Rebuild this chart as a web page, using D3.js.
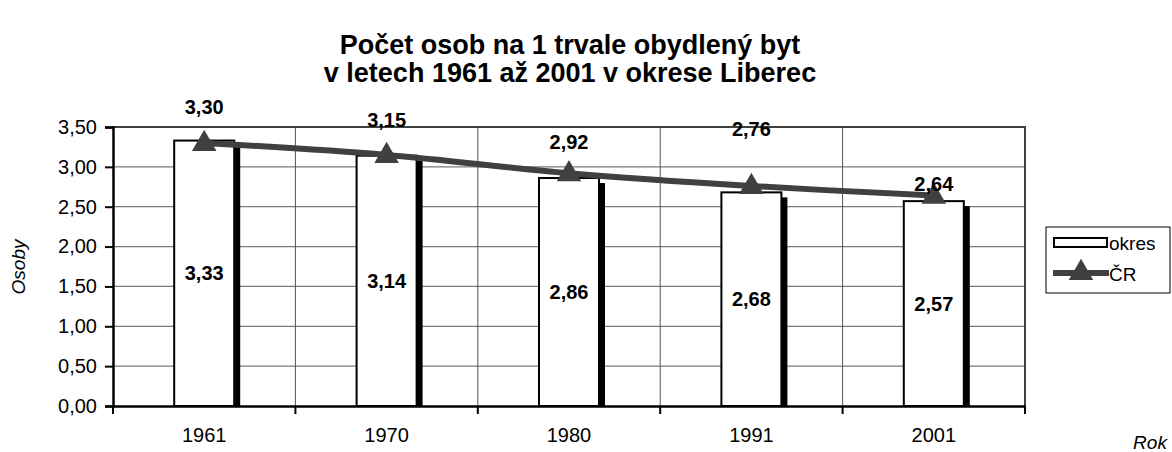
<!DOCTYPE html>
<html lang="cs">
<head>
    <meta charset="UTF-8">
    <title>Počet osob na 1 trvale obydlený byt</title>
    <script src="https://d3js.org/d3.v7.min.js"></script>
    <style>
        body {
            margin: 0;
            background: #fff;
            font-family: "Liberation Sans", Arial, sans-serif;
        }
        svg text {
            fill: #000;
        }
    </style>
</head>
<body>
    <svg width="1172" height="452"></svg>

    <script>
        // data
        const years = ["1961", "1970", "1980", "1991", "2001"];
        const okres = [3.33, 3.14, 2.86, 2.68, 2.57];
        const cr = [3.30, 3.15, 2.92, 2.76, 2.64];
        const yTicks = [0, 0.5, 1, 1.5, 2, 2.5, 3, 3.5];

        // label offsets above the line markers (px)
        const crLabelDy = [-36, -35, -31, -57, -12];

        const cz = d3.formatLocale({decimal: ",", thousands: " ", grouping: [3], currency: ["", " Kč"]});
        const fmt = cz.format(".2f");

        const svg = d3.select("svg");
        const plotL = 113, plotR = 1025, plotT = 127, plotB = 406;

        const x = d3.scaleBand()
                    .domain(years)
                    .range([plotL, plotR])
                    .padding(0);

        const y = d3.scaleLinear()
                    .domain([0, 3.5])
                    .range([plotB, plotT]);

        // title
        const title = svg.append("text")
           .attr("x", 570)
           .attr("text-anchor", "middle")
           .style("font-weight", "bold")
           .style("font-size", "27px");
        title.append("tspan").attr("x", 570).attr("y", 54).text("Počet osob na 1 trvale obydlený byt");
        title.append("tspan").attr("x", 570).attr("y", 82).text("v letech 1961 až 2001 v okrese Liberec");

        // horizontal gridlines
        svg.append("g")
           .selectAll("line")
           .data(yTicks.filter(d => d > 0 && d < 3.5))
           .enter()
           .append("line")
           .attr("x1", plotL).attr("x2", plotR)
           .attr("y1", d => y(d)).attr("y2", d => y(d))
           .attr("stroke", "#7a7a7a")
           .attr("stroke-width", 1.3);

        // vertical gridlines at category boundaries
        svg.append("g")
           .selectAll("line")
           .data(years.slice(1))
           .enter()
           .append("line")
           .attr("x1", d => x(d)).attr("x2", d => x(d))
           .attr("y1", plotT).attr("y2", plotB)
           .attr("stroke", "#555")
           .attr("stroke-width", 1);

        // plot border top / right
        svg.append("path")
           .attr("d", `M${plotL},${plotT}H${plotR}V${plotB}`)
           .attr("fill", "none")
           .attr("stroke", "#404040")
           .attr("stroke-width", 2);

        // bars with dark side
        const barW = 60;
        const bars = svg.append("g")
           .selectAll("g")
           .data(okres)
           .enter()
           .append("g");

        bars.append("rect")
            .attr("x", (d, i) => x(years[i]) + x.bandwidth() / 2 + barW / 2)
            .attr("y", d => y(d) + 5)
            .attr("width", 6)
            .attr("height", d => plotB - y(d) - 5)
            .attr("fill", "#000");

        bars.append("rect")
            .attr("x", (d, i) => x(years[i]) + x.bandwidth() / 2 - barW / 2)
            .attr("y", d => y(d))
            .attr("width", barW)
            .attr("height", d => plotB - y(d))
            .attr("fill", "#fff")
            .attr("stroke", "#000")
            .attr("stroke-width", 2);

        bars.append("text")
            .attr("x", (d, i) => x(years[i]) + x.bandwidth() / 2)
            .attr("y", d => y(d / 2) + 7)
            .attr("text-anchor", "middle")
            .style("font-weight", "bold")
            .style("font-size", "20px")
            .text(d => fmt(d));

        // axes
        const yAxis = svg.append("g")
           .attr("transform", `translate(${plotL},0)`)
           .call(d3.axisLeft(y).tickValues(yTicks).tickFormat(fmt).tickSize(8).tickPadding(8));
        yAxis.select(".domain").attr("stroke-width", 2.5);
        yAxis.selectAll(".tick line").attr("stroke-width", 2);
        yAxis.selectAll("text").style("font-size", "20px").style("font-family", "Liberation Sans, Arial, sans-serif");

        const xAxis = svg.append("g")
           .attr("transform", `translate(0,${plotB})`)
           .call(d3.axisBottom(x).tickSize(0).tickPadding(22));
        xAxis.select(".domain").attr("stroke-width", 2.5);
        xAxis.selectAll("text").style("font-size", "20px").style("font-family", "Liberation Sans, Arial, sans-serif");
        xAxis.selectAll(".sep")
             .data(years.concat(["end"]))
             .enter()
             .append("line")
             .attr("class", "sep")
             .attr("x1", (d, i) => i < years.length ? x(d) : plotR)
             .attr("x2", (d, i) => i < years.length ? x(d) : plotR)
             .attr("y1", 0).attr("y2", 8)
             .attr("stroke", "#000")
             .attr("stroke-width", 2);

        // axis titles
        svg.append("text")
           .attr("transform", "translate(25,267) rotate(-90)")
           .attr("text-anchor", "middle")
           .style("font-style", "italic")
           .style("font-size", "19px")
           .text("Osoby");

        svg.append("text")
           .attr("x", 1150)
           .attr("y", 449)
           .attr("text-anchor", "middle")
           .style("font-style", "italic")
           .style("font-size", "19px")
           .text("Rok");

        // ČR line
        const pts = cr.map((d, i) => [x(years[i]) + x.bandwidth() / 2, y(d)]);
        svg.append("path")
           .attr("d", d3.line().curve(d3.curveCatmullRom.alpha(0.5))(pts))
           .attr("fill", "none")
           .attr("stroke", "#404040")
           .attr("stroke-width", 6);

        const tri = d3.symbol().type(d3.symbolTriangle).size(260);
        svg.append("g")
           .selectAll("path")
           .data(pts)
           .enter()
           .append("path")
           .attr("d", tri)
           .attr("transform", d => `translate(${d[0]},${d[1] + 1})`)
           .attr("fill", "#404040");

        svg.append("g")
           .selectAll("text")
           .data(cr)
           .enter()
           .append("text")
           .attr("x", (d, i) => pts[i][0])
           .attr("y", (d, i) => pts[i][1] + crLabelDy[i] + 7)
           .attr("text-anchor", "middle")
           .style("font-weight", "bold")
           .style("font-size", "20px")
           .text(d => fmt(d));

        // legend
        const lg = svg.append("g").attr("transform", "translate(1046,227)");
        lg.append("rect")
          .attr("x", 0).attr("y", 0)
          .attr("width", 124).attr("height", 66)
          .attr("fill", "#fff")
          .attr("stroke", "#000")
          .attr("stroke-width", 1);
        lg.append("rect")
          .attr("x", 8).attr("y", 11)
          .attr("width", 53).attr("height", 9)
          .attr("fill", "#fff")
          .attr("stroke", "#000")
          .attr("stroke-width", 2);
        lg.append("text").attr("x", 63).attr("y", 23).style("font-size", "19px").text("okres");
        lg.append("line")
          .attr("x1", 7).attr("x2", 63)
          .attr("y1", 46).attr("y2", 46)
          .attr("stroke", "#404040")
          .attr("stroke-width", 6);
        lg.append("path")
          .attr("d", tri)
          .attr("transform", "translate(35,46)")
          .attr("fill", "#404040");
        lg.append("text").attr("x", 63).attr("y", 54).style("font-size", "19px").text("ČR");
    </script>
</body>
</html>
